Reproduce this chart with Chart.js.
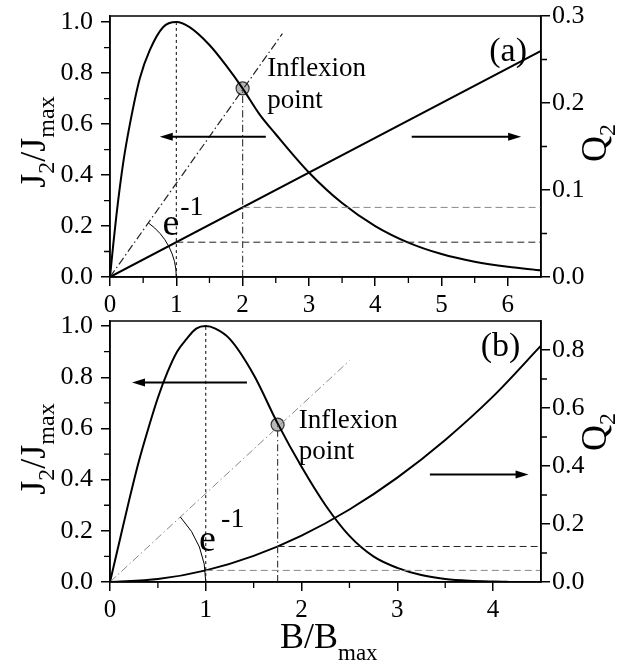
<!DOCTYPE html>
<html>
<head>
<meta charset="utf-8">
<script src="https://cdn.jsdelivr.net/npm/chart.js@4.4.1/dist/chart.umd.min.js"></script>
<style>
  html, body { margin: 0; padding: 0; background: #fff; }
  #wrap { position: relative; width: 619px; height: 668px; }
  canvas { position: absolute; left: 0; }
  #chartA { top: 0; }
  #chartB { top: 296px; }
</style>
</head>
<body>
<div id="wrap">
  <canvas id="chartA" width="619" height="320"></canvas>
  <canvas id="chartB" width="619" height="372"></canvas>
</div>
<script>
// ---- panel (a) ----
const xA = [0, 0.05, 0.1, 0.2, 0.3, 0.45, 0.6, 0.8, 1.0, 1.2, 1.5, 1.75, 2.0, 2.25, 2.5, 3.0, 3.5, 4.0, 4.5, 5.0, 5.5, 6.0, 6.5];
const jA = [0, 0.13, 0.25, 0.45, 0.6, 0.78, 0.89, 0.98, 1.0, 0.98, 0.91, 0.83, 0.74, 0.64, 0.56, 0.41, 0.29, 0.2, 0.135, 0.09, 0.06, 0.04, 0.026];
const qxA = [0, 6.5];
const qA = [0, 0.26];
const peakA = [1, 1.0];
const inflexA = [2, 0.74];
const tangentEndA = [2.6, 0.955];
const qLevelsA = [0.04, 0.08];        // Q2 at the peak and at the inflexion point
const xTicksA = [0, 1, 2, 3, 4, 5, 6];
const yTicks = [0, 0.2, 0.4, 0.6, 0.8, 1.0];
const qTicksA = [0, 0.1, 0.2, 0.3];

// ---- panel (b) ----
const xB = [0, 0.1, 0.2, 0.3, 0.4, 0.5, 0.6, 0.7, 0.8, 0.9, 1.0, 1.1, 1.25, 1.5, 1.75, 2.0, 2.25, 2.5, 2.75, 3.0, 3.25, 3.5, 3.75, 4.0, 4.15];
const jB = [0, 0.16, 0.32, 0.47, 0.6, 0.72, 0.82, 0.9, 0.95, 0.99, 1.0, 0.99, 0.95, 0.81, 0.62, 0.45, 0.30, 0.18, 0.10, 0.055, 0.027, 0.012, 0.005, 0.002, 0.001];
const qxB = [0, 0.5, 1.0, 1.5, 2.0, 2.5, 3.0, 3.5, 4.0, 4.5];
const qB = [0, 0.01, 0.04, 0.09, 0.16, 0.25, 0.36, 0.49, 0.64, 0.815];
const peakB = [1, 1.0];
const inflexB = [1.75, 0.615];
const tangentEndB = [2.5, 0.865];
const qLevelsB = [0.04, 0.1225];
const xTicksB = [0, 1, 2, 3, 4];
const qTicksB = [0, 0.2, 0.4, 0.6, 0.8];

const FONT = "'Liberation Serif', 'DejaVu Serif', serif";

function pts(xs, ys) { return xs.map((x, i) => ({ x: x, y: ys[i] })); }

// small helper: draw a run of text pieces (for subscripts / superscripts)
function drawRuns(ctx, runs, x, y, align) {
  let total = 0;
  runs.forEach(r => { ctx.font = r.size + 'px ' + FONT; r.w = ctx.measureText(r.t).width; total += r.w; });
  let cx = align === 'center' ? x - total / 2 : x;
  runs.forEach(r => {
    ctx.font = r.size + 'px ' + FONT;
    ctx.fillText(r.t, cx, y + (r.dy || 0));
    cx += r.w;
  });
}

function arrow(ctx, x1, y, x2) {
  const dir = x2 > x1 ? 1 : -1;
  ctx.beginPath();
  ctx.moveTo(x1, y);
  ctx.lineTo(x2 - dir * 10, y);
  ctx.lineWidth = 2;
  ctx.stroke();
  ctx.beginPath();
  ctx.moveTo(x2, y);
  ctx.lineTo(x2 - dir * 13, y - 4);
  ctx.lineTo(x2 - dir * 13, y + 4);
  ctx.closePath();
  ctx.fill();
}

// frame, minor ticks, angle arc, arrows and labels
const decor = {
  id: 'decor',
  afterDatasetsDraw(chart, args, o) {
    const ctx = chart.ctx, a = chart.chartArea;
    const sx = chart.scales.x, sy = chart.scales.y, sq = chart.scales.q;
    ctx.save();
    ctx.strokeStyle = '#000';
    ctx.fillStyle = '#000';
    ctx.setLineDash([]);

    // box
    ctx.lineWidth = 1.5;
    ctx.strokeRect(a.left, a.top, a.right - a.left, a.bottom - a.top);

    // minor ticks
    ctx.lineWidth = 1.3;
    ctx.beginPath();
    o.minorX.forEach(v => { const p = sx.getPixelForValue(v); ctx.moveTo(p, a.bottom); ctx.lineTo(p, a.bottom + 6); });
    o.minorY.forEach(v => { const p = sy.getPixelForValue(v); ctx.moveTo(a.left - 6, p); ctx.lineTo(a.left, p); });
    o.minorQ.forEach(v => { const p = sq.getPixelForValue(v); ctx.moveTo(a.right, p); ctx.lineTo(a.right + 6, p); });
    ctx.stroke();

    // angle arc between the x axis and the tangent
    const x0 = sx.getPixelForValue(0), y0 = sy.getPixelForValue(0);
    const r = sx.getPixelForValue(1) - x0;
    const tx = sx.getPixelForValue(o.tangent[0]), ty = sy.getPixelForValue(o.tangent[1]);
    const ang = Math.atan2(y0 - ty, tx - x0);
    ctx.lineWidth = 1;
    ctx.beginPath();
    ctx.arc(x0, y0, r, -ang, 0);
    ctx.stroke();

    // arrows
    o.arrows.forEach(ar => {
      arrow(ctx, sx.getPixelForValue(ar[0]), sy.getPixelForValue(ar[2]), sx.getPixelForValue(ar[1]));
    });

    // texts
    ctx.textBaseline = 'alphabetic';
    ctx.textAlign = 'left';
    o.texts.forEach(t => {
      ctx.font = t.size + 'px ' + FONT;
      ctx.fillText(t.t, sx.getPixelForValue(t.x), sy.getPixelForValue(t.y));
    });

    // axis titles
    ctx.save();
    ctx.translate(o.jTitle[0], o.jTitle[1]);
    ctx.rotate(-Math.PI / 2);
    drawRuns(ctx, [
      { t: 'J', size: 36 }, { t: '2', size: 24, dy: 9 }, { t: '/', size: 36 },
      { t: 'J', size: 36 }, { t: 'max', size: 24, dy: 9 }
    ], 0, 0, 'center');
    ctx.restore();

    ctx.save();
    ctx.translate(o.qTitle[0], o.qTitle[1]);
    ctx.rotate(-Math.PI / 2);
    drawRuns(ctx, [{ t: 'Q', size: 36 }, { t: '2', size: 24, dy: 9 }], 0, 0, 'center');
    ctx.restore();

    if (o.bTitle) {
      drawRuns(ctx, [{ t: 'B/B', size: 36 }, { t: 'max', size: 23, dy: 12 }], o.bTitle[0], o.bTitle[1], 'left');
    }
    ctx.restore();
  }
};

function fixedTicks(list) {
  return function (scale) { scale.ticks = list.map(v => ({ value: v })); };
}

// fixed axis size, and no extra room for overhanging tick labels
function fixSize(prop, size) {
  return function (s) {
    s[prop] = size;
    s.paddingTop = 0; s.paddingBottom = 0; s.paddingLeft = 0; s.paddingRight = 0;
  };
}

function makeChart(id, cfg) {
  const lineDs = (data, axis, color, width, dash) => ({
    data: data, yAxisID: axis, showLine: true, borderColor: color, borderWidth: width,
    borderDash: dash || [], pointRadius: 0, fill: false, cubicInterpolationMode: 'monotone'
  });
  const datasets = [
    lineDs(pts([cfg.peak[0], cfg.peak[0]], [0, cfg.peak[1]]), 'y', '#000', 1, [3, 3]),
    lineDs(pts([cfg.inflex[0], cfg.inflex[0]], [0, cfg.inflex[1]]), 'y', '#444', 1.2, [7, 3, 1.5, 3]),
    lineDs(pts([0, cfg.tangent[0]], [0, cfg.tangent[1]]), 'y', cfg.tangentColor, cfg.tangentWidth, [8, 3, 1.5, 3]),
    lineDs(pts([cfg.peak[0], cfg.xMax], [cfg.qLevels[0], cfg.qLevels[0]]), 'q', cfg.levelColors[0], 1, [7, 4]),
    lineDs(pts([cfg.inflex[0], cfg.xMax], [cfg.qLevels[1], cfg.qLevels[1]]), 'q', cfg.levelColors[1], 1, [7, 4]),
    lineDs(pts(cfg.qx, cfg.q), 'q', '#000', 2),
    lineDs(pts(cfg.x, cfg.j), 'y', '#000', 2),
    {
      data: [{ x: cfg.inflex[0], y: cfg.inflex[1] }], yAxisID: 'y', showLine: false,
      pointRadius: 6.5, backgroundColor: '#b8b8b8', borderColor: '#333', borderWidth: 1.2
    }
  ];
  const tickFont = { family: FONT, size: 26 };
  return new Chart(document.getElementById(id), {
    type: 'scatter',
    data: { datasets: datasets },
    options: {
      responsive: false,
      animation: false,
      layout: { autoPadding: false, padding: { top: cfg.padTop, left: 0, right: 0, bottom: 0 } },
      plugins: { legend: { display: false }, tooltip: { enabled: false }, decor: cfg.decor },
      scales: {
        x: {
          type: 'linear', min: 0, max: cfg.xMax,
          afterBuildTicks: fixedTicks(cfg.xTicks),
          afterFit: fixSize('height', cfg.xHeight),
          grid: { drawOnChartArea: false, tickLength: 9, color: '#000', lineWidth: 1.5 },
          border: { color: '#000', width: 1.5 },
          ticks: { color: '#000', font: { family: FONT, size: 25 }, padding: 4, maxRotation: 0, callback: v => String(v) }
        },
        y: {
          type: 'linear', position: 'left', min: 0, max: cfg.yMax,
          afterBuildTicks: fixedTicks(yTicks),
          afterFit: fixSize('width', 110),
          grid: { drawOnChartArea: false, tickLength: 9, color: '#000', lineWidth: 1.5 },
          border: { color: '#000', width: 1.5 },
          ticks: { color: '#000', font: tickFont, padding: 8, callback: v => v.toFixed(1) }
        },
        q: {
          type: 'linear', position: 'right', min: 0, max: cfg.qMax,
          afterBuildTicks: fixedTicks(cfg.qTicks),
          afterFit: fixSize('width', 78),
          grid: { drawOnChartArea: false, tickLength: 9, color: '#000', lineWidth: 1.5 },
          border: { color: '#000', width: 1.5 },
          ticks: { color: '#000', font: tickFont, padding: 2, callback: v => v.toFixed(1) }
        }
      }
    },
    plugins: [decor]
  });
}

makeChart('chartA', {
  x: xA, j: jA, qx: qxA, q: qA, peak: peakA, inflex: inflexA, tangent: tangentEndA,
  qLevels: qLevelsA, levelColors: ['#222', '#888'], tangentColor: '#222', tangentWidth: 1.2,
  xMax: 6.5, yMax: 1.024, qMax: 0.3, xTicks: xTicksA, qTicks: qTicksA,
  padTop: 16, xHeight: 43,
  decor: {
    minorX: [0.5, 1.5, 2.5, 3.5, 4.5, 5.5],
    minorY: [0.1, 0.3, 0.5, 0.7, 0.9],
    minorQ: [0.05, 0.15, 0.25],
    tangent: tangentEndA,
    arrows: [[2.35, 0.75, 0.55], [4.55, 6.2, 0.55]],
    texts: [
      { t: 'Inflexion', x: 2.37, y: 0.79, size: 27 },
      { t: 'point', x: 2.37, y: 0.663, size: 27 },
      { t: '(a)', x: 5.72, y: 0.847, size: 34 },
      { t: 'e', x: 0.79, y: 0.165, size: 38 },
      { t: '-1', x: 1.06, y: 0.243, size: 28 }
    ],
    jTitle: [45, 142],
    qTitle: [606, 143]
  }
});

// canvas (b) starts 24px higher so its top tick label is not cut
makeChart('chartB', {
  x: xB, j: jB, qx: qxB, q: qB, peak: peakB, inflex: inflexB, tangent: tangentEndB,
  qLevels: qLevelsB, levelColors: ['#888', '#222'], tangentColor: '#888', tangentWidth: 1,
  xMax: 4.5, yMax: 1.02, qMax: 0.9, xTicks: xTicksB, qTicks: qTicksB,
  padTop: 25, xHeight: 86,
  decor: {
    minorX: [0.5, 1.5, 2.5, 3.5],
    minorY: [0.1, 0.3, 0.5, 0.7, 0.9],
    minorQ: [0.1, 0.3, 0.5, 0.7],
    tangent: tangentEndB,
    arrows: [[1.43, 0.23, 0.78], [3.34, 4.37, 0.42]],
    texts: [
      { t: 'Inflexion', x: 1.97, y: 0.6, size: 27 },
      { t: 'point', x: 1.97, y: 0.48, size: 27 },
      { t: '(b)', x: 3.87, y: 0.885, size: 34 },
      { t: 'e', x: 0.93, y: 0.123, size: 38 },
      { t: '-1', x: 1.16, y: 0.213, size: 28 }
    ],
    jTitle: [45, 153],
    qTitle: [606, 136],
    bTitle: [280, 352]
  }
});
</script>
</body>
</html>
